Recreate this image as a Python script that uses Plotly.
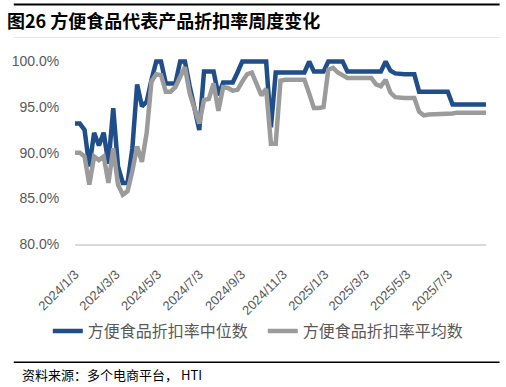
import datetime as dt
import plotly.graph_objects as go

start = dt.date(2024, 1, 3)
median_pct = [
    93.2, 93.2, 92.5, 88.5, 92.2, 90.8, 92.2, 88.8, 94.9, 88.5,
    86.7, 86.7, 90.5, 97.5, 95.1, 95.6, 98.0, 100.0, 100.0, 97.6,
    97.6, 97.6, 100.0, 100.0, 97.3, 94.6, 92.5, 98.9, 98.9, 98.9,
    96.3, 97.7, 97.7, 97.7, 98.8, 100.0, 100.0, 100.0, 100.0, 100.0,
    100.0, 92.8, 98.8, 98.8, 98.8, 98.8, 98.8, 98.8, 98.8, 100.0,
    98.9, 98.9, 98.9, 100.0, 100.0, 100.0, 100.0, 98.9, 98.9, 98.9,
    98.9, 98.9, 98.9, 98.9, 98.9, 100.0, 99.0, 98.7, 98.6, 98.6,
    98.6, 98.6, 96.7, 96.7, 96.7, 96.7, 96.7, 96.7, 96.7, 95.3,
    95.3, 95.3, 95.3, 95.3, 95.3, 95.3, 95.3,
]
mean_pct = [
    90.0, 90.0, 89.6, 86.5, 89.6, 89.2, 89.6, 86.7, 90.5, 86.5,
    85.4, 85.8, 88.0, 90.7, 89.0, 92.2, 97.8, 98.6, 98.5, 96.7,
    96.7, 97.2, 98.3, 99.4, 96.5, 94.9, 93.2, 95.8, 95.9, 97.6,
    94.6, 97.2, 97.1, 96.8, 96.9, 97.8, 98.6, 98.8, 97.4, 96.3,
    97.0, 91.0, 91.0, 97.9, 98.0, 98.0, 98.0, 98.0, 98.0, 96.5,
    94.9, 94.9, 95.0, 99.1, 99.3, 98.8, 98.5, 98.2, 98.2, 98.2,
    98.2, 98.2, 98.2, 97.5, 97.3, 98.0, 96.6, 96.1, 96.0, 96.0,
    96.0, 96.0, 94.5, 94.1, 94.2, 94.2, 94.2, 94.2, 94.2, 94.3,
    94.4, 94.4, 94.4, 94.4, 94.4, 94.4, 94.4,
]
dates = [start + dt.timedelta(days=7 * i) for i in range(len(median_pct))]
tick_dates = [dt.date(2024, 1, 3), dt.date(2024, 3, 3), dt.date(2024, 5, 3),
              dt.date(2024, 7, 3), dt.date(2024, 9, 3), dt.date(2024, 11, 3),
              dt.date(2025, 1, 3), dt.date(2025, 3, 3), dt.date(2025, 5, 3),
              dt.date(2025, 7, 3)]
tick_text = [f"{d.year}/{d.month}/{d.day}" for d in tick_dates]
y_ticks = [80, 85, 90, 95, 100]
y_tick_text = [f"{v:.1f}%" for v in y_ticks]
names = ["方便食品折扣率中位数", "方便食品折扣率平均数"]

CJK = "Noto Sans CJK SC"
fig = go.Figure()
fig.add_trace(go.Scatter(x=dates, y=median_pct, mode="lines", name=names[0],
                         line=dict(color="#1f4e8a", width=4.5)))
fig.add_trace(go.Scatter(x=dates, y=mean_pct, mode="lines", name=names[1],
                         line=dict(color="#9b9b9b", width=4.5)))

W, H = 506, 387
L, R = 63, 20
T, B = 57.45, 143
pw = W - L - R
ph = H - T - B

def px(x):
    return (x - L) / pw

def py(y):
    return (H - B - y) / ph

fig.update_layout(
    width=W, height=H, autosize=False,
    margin=dict(l=L, r=R, t=T, b=B, pad=0),
    paper_bgcolor="white", plot_bgcolor="white",
    showlegend=True,
    legend=dict(orientation="h", x=px(35), y=py(331), xanchor="left", yanchor="middle",
                font=dict(family=CJK, size=16, color="#595959"),
                itemwidth=30, entrywidth=170, bgcolor="rgba(0,0,0,0)"),
    xaxis=dict(type="date", range=[dates[0], dates[-1]], tickvals=tick_dates, ticktext=tick_text,
               tickangle=-45, showgrid=False, showline=True, linecolor="#d9d9d9", linewidth=1.5,
               ticks="outside", ticklen=16, tickcolor="rgba(0,0,0,0)", zeroline=False,
               tickfont=dict(family="Liberation Sans", size=13, color="#595959")),
    yaxis=dict(range=[80, 100.5], tickvals=y_ticks, ticktext=y_tick_text,
               showgrid=False, zeroline=False, showline=False,
               ticks="outside", ticklen=12, tickcolor="rgba(0,0,0,0)",
               tickfont=dict(family="Liberation Sans", size=14, color="#595959")),
    title=dict(text="<b>图26 方便食品代表产品折扣率周度变化</b>", xref="container", yref="container",
               x=7 / W, y=1 - 22 / H, xanchor="left", yanchor="middle",
               font=dict(family=CJK, size=18, color="black")),
    annotations=[dict(text="资料来源：多个电商平台， HTI", xref="paper", yref="paper",
                      x=px(6), y=py(374), xanchor="left", yanchor="middle", showarrow=False,
                      font=dict(family=CJK, size=13, color="black"))],
    shapes=[
        dict(type="line", xref="paper", yref="paper", x0=px(0), x1=px(500), y0=py(5), y1=py(5),
             line=dict(color="black", width=2)),
        dict(type="line", xref="paper", yref="paper", x0=px(0), x1=px(500), y0=py(38), y1=py(38),
             line=dict(color="#e6e6e6", width=1)),
        dict(type="line", xref="paper", yref="paper", x0=px(0), x1=px(500), y0=py(362), y1=py(362),
             line=dict(color="black", width=1.5)),
    ],
)
fig.write_html("out.html", config={"displayModeBar": False},
               post_script="document.body.style.margin='0';")
